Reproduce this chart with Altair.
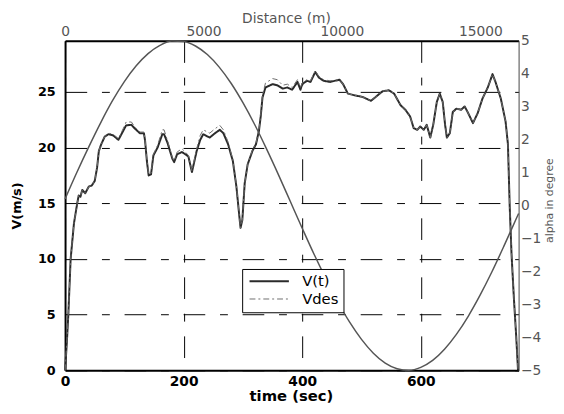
import altair as alt
import pandas as pd

# ---------------- data ----------------
t_v = [0, 3, 5.5, 9.4, 15, 20.5, 23, 26, 29, 34, 40, 45, 50, 54, 57, 61, 67, 73, 81, 90,
       98, 103, 112, 117, 126, 133, 135, 138, 141, 145, 149, 156, 164, 167, 173, 181, 184, 189, 197, 203,
       208, 214, 222, 228, 233, 244, 253, 261, 267, 275, 283, 289, 294, 296, 299, 303, 308, 316, 322, 327,
       330, 333, 338, 350, 358, 367, 375, 383, 392, 397, 400, 408, 414, 422, 428, 436, 447, 463, 469, 477,
       488, 502, 516, 524, 535, 546, 555, 566, 574, 582, 588, 594, 599, 605, 610, 616, 621, 627, 632, 637,
       641, 644, 649, 654, 660, 668, 674, 679, 688, 696, 704, 713, 721, 726, 735, 743, 747, 750, 753, 757,
       761, 764]
v_vals = [0, 2.5, 5, 10, 13.2, 15, 15.7, 15.6, 16.2, 15.9, 16.5, 16.6, 17.0, 18.2, 19.7, 20.3, 21.0, 21.2, 21.1, 20.7,
          21.5, 22.0, 22.05, 21.75, 21.3, 21.3, 20.6, 18.8, 17.5, 17.6, 19.3, 20.0, 21.2, 21.2, 20.4, 19.0, 18.7, 19.4, 19.6, 19.4,
          19.2, 17.8, 19.7, 20.7, 21.2, 20.9, 21.3, 21.6, 21.3, 20.3, 18.8, 16.5, 13.8, 12.8, 13.5, 16.8, 18.5, 19.7, 20.3, 21.5,
          22.8, 24.5, 25.4, 25.7, 25.6, 25.3, 25.4, 25.2, 25.9, 25.2, 25.7, 26.0, 25.9, 26.8, 26.3, 26.0, 25.9, 26.1, 25.7, 24.85,
          24.7, 24.55, 24.2, 24.55, 25.05, 25.15, 24.85, 23.8, 23.4, 22.8, 21.75, 21.6, 21.9, 21.6, 22.05, 20.9, 22.05, 24.1, 24.85, 24.1,
          22.05, 20.9, 21.3, 23.2, 23.5, 23.4, 23.7, 23.2, 22.2, 23.1, 24.4, 25.4, 26.6, 25.9, 24.4, 22.35, 20.3, 14.7, 10.5, 6.5,
          3.0, 0]
vdes_vals = [0, 2.5, 5, 10, 13.2, 15, 15.7, 15.6, 16.2, 15.9, 16.5, 16.6, 17.0, 18.2, 19.7, 20.3, 21.0, 21.3, 21.2, 20.8,
             21.7, 22.3, 22.3, 21.9, 21.4, 21.4, 20.7, 18.9, 17.6, 17.7, 19.4, 20.2, 21.6, 21.6, 20.6, 19.1, 18.8, 19.6, 19.9, 19.6,
             19.3, 17.9, 19.9, 21.1, 21.6, 21.3, 21.7, 22.0, 21.6, 20.5, 18.9, 16.6, 13.8, 12.8, 13.5, 16.8, 18.5, 19.8, 20.4, 21.6,
             22.9, 24.7, 25.8, 26.2, 26.1, 25.6, 25.7, 25.4, 26.1, 25.4, 25.8, 26.1, 26.0, 26.9, 26.4, 26.1, 26.0, 26.1, 25.7, 24.85,
             24.7, 24.55, 24.2, 24.55, 25.05, 25.15, 24.85, 23.8, 23.4, 22.8, 21.75, 21.6, 21.9, 21.6, 22.05, 20.9, 22.05, 24.1, 24.85, 24.1,
             22.05, 20.9, 21.3, 23.2, 23.5, 23.4, 23.7, 23.2, 22.2, 23.1, 24.4, 25.4, 26.6, 25.9, 24.4, 22.35, 20.3, 14.7, 10.5, 6.5,
             3.0, 0]
t_alpha = [0, 20, 40, 60, 80, 100, 120, 140, 160, 180, 200, 220, 240, 260, 280, 300, 320, 340, 360, 380,
           400, 420, 440, 460, 480, 500, 520, 540, 560, 580, 600, 620, 640, 660, 680, 700, 720, 740, 760, 765]
alpha_vals = [0.20, 1.01, 1.78, 2.51, 3.18, 3.76, 4.24, 4.61, 4.86, 4.99, 4.98, 4.84, 4.58, 4.20, 3.71, 3.12, 2.45, 1.71, 0.93, 0.12,
              -0.69, -1.48, -2.22, -2.92, -3.54, -4.06, -4.48, -4.78, -4.95, -5.00, -4.91, -4.70, -4.36, -3.91, -3.36, -2.72, -2.01, -1.24, -0.44, -0.24]

series = ["V(t)", "Vdes"]
time_ticks = [0, 200, 400, 600]
v_ticks = [0, 5, 10, 15, 20, 25]
alpha_ticks = [-5, -4, -3, -2, -1, 0, 1, 2, 3, 4, 5]
dist_ticks = [0, 5000, 10000, 15000]
t_range = [0, 765]
v_range = [0, 29.6]
alpha_range = [-5, 5]
dist_range = [0, 16380]

# ---------------- tables ----------------
vdf = pd.DataFrame({
    "t": t_v + t_v,
    "v": v_vals + vdes_vals,
    "s": [series[0]] * len(t_v) + [series[1]] * len(t_v),
})
adf = pd.DataFrame({"t": t_alpha, "a": alpha_vals})
ddf = pd.DataFrame({"d": dist_range})

FONT = "DejaVu Sans"
GRAY = "#555555"
DASH = [22, 15, 8, 15]

legend = alt.Legend(
    orient="none", legendX=180, legendY=232, title=None,
    strokeColor="black", fillColor="white", padding=5, cornerRadius=0,
    labelFont=FONT, labelFontSize=15, labelColor="black", labelOffset=26,
    symbolType="M-4,0H4", symbolSize=100, symbolOffset=15, symbolStrokeWidth=1.3,
    rowPadding=2,
)

lines = alt.Chart(vdf).mark_line(strokeJoin="round").encode(
    x=alt.X("t:Q", scale=alt.Scale(domain=t_range, nice=False, zero=False),
            axis=alt.Axis(orient="bottom", values=time_ticks, title="time (sec)",
                          grid=True, gridColor="black", gridDash=DASH, gridWidth=1,
                          ticks=False, tickSize=0, domainColor="black", domainWidth=2,
                          labelFont=FONT, labelFontWeight="bold", labelFontSize=14, labelColor="black",
                          labelPadding=4, labelFlush=False,
                          titleFont=FONT, titleFontWeight="bold", titleFontSize=15, titleColor="black",
                          titleX=229.5, titleY=26, titleAlign="center", titleBaseline="middle")),
    y=alt.Y("v:Q", scale=alt.Scale(domain=v_range, nice=False, zero=False),
            axis=alt.Axis(orient="left", values=v_ticks, title="V(m/s)",
                          grid=True, gridColor="black", gridDash=DASH, gridWidth=1,
                          ticks=False, tickSize=0, domainColor="black", domainWidth=2,
                          labelFont=FONT, labelFontWeight="bold", labelFontSize=13, labelColor="black",
                          labelPadding=10, labelFlush=False,
                          titleFont=FONT, titleFontWeight="bold", titleFontSize=13, titleColor="black",
                          titleAngle=270, titleX=-49, titleY=167.5, titleAlign="center", titleBaseline="middle")),
    color=alt.Color("s:N", scale=alt.Scale(domain=series, range=["#2a2a2a", "#6e6e6e"]), legend=legend),
    strokeDash=alt.StrokeDash("s:N", scale=alt.Scale(domain=series, range=[[1, 0], [6, 3, 2, 3]]), legend=legend),
    strokeWidth=alt.StrokeWidth("s:N", scale=alt.Scale(domain=series, range=[2.0, 1.0]), legend=None),
)

sine = alt.Chart(adf).mark_line(color=GRAY, strokeWidth=1.5, interpolate="monotone").encode(
    x=alt.X("t:Q", scale=alt.Scale(domain=t_range, nice=False, zero=False), axis=None),
    y=alt.Y("a:Q", scale=alt.Scale(domain=alpha_range, nice=False, zero=False),
            axis=alt.Axis(orient="right", values=alpha_ticks, format="d", title="alpha in degree",
                          grid=False, ticks=False, tickSize=0, domainColor=GRAY, domainWidth=1,
                          labelFont=FONT, labelFontSize=14, labelColor=GRAY, labelPadding=2, labelFlush=False,
                          titleFont=FONT, titleFontSize=11, titleFontWeight="normal", titleColor=GRAY,
                          titleAngle=270, titleX=31, titleY=162, titleAlign="center", titleBaseline="middle")),
)

dist = alt.Chart(ddf).mark_point(opacity=0).encode(
    x=alt.X("d:Q", scale=alt.Scale(domain=dist_range, nice=False, zero=False),
            axis=alt.Axis(orient="top", values=dist_ticks, format="d", title="Distance (m)",
                          grid=False, ticks=False, tickSize=0, domainColor="black", domainWidth=2,
                          labelFont=FONT, labelFontSize=14, labelColor=GRAY, labelPadding=2, labelFlush=False,
                          titleFont=FONT, titleFontSize=14, titleFontWeight="normal", titleColor=GRAY,
                          titleX=224.5, titleY=-23, titleAlign="center", titleBaseline="middle")),
    y=alt.value(0),
)

chart = alt.layer(lines, sine, dist).resolve_scale(
    x="independent", y="independent"
).properties(
    width=461, height=335,
    padding={"left": 58, "top": 30, "right": 38, "bottom": 33},
    autosize=alt.AutoSizeParams(type="none"),
).configure_view(stroke=None).configure(background="white")

chart.save("out.html", embed_options={"renderer": "svg", "actions": False})
